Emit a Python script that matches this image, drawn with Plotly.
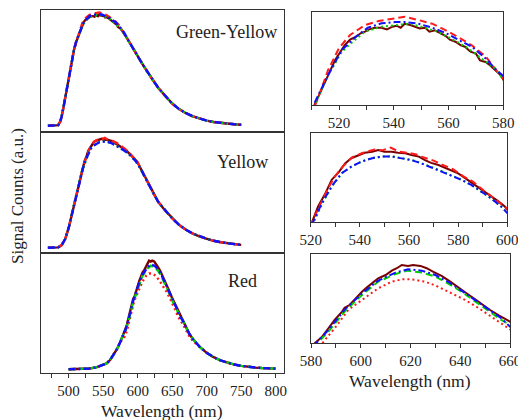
import plotly.graph_objects as go

W, H = 518, 420

# ---------------- Green-Yellow ----------------
GY_LO_WL = [470, 480, 485, 488, 490, 493, 495, 498, 500, 503, 505, 508]
GY_LO = [0.0, 0.0, 0.005, 0.04, 0.085, 0.18, 0.25, 0.36, 0.43, 0.54, 0.60, 0.69]
GY_HI_WL = [585, 590, 595, 600, 605, 610, 615, 620, 625, 630, 640, 650, 660, 670, 680, 690, 700, 710, 720, 730, 740, 750]
GY_HI = [0.785, 0.73, 0.68, 0.625, 0.575, 0.525, 0.475, 0.43, 0.385, 0.34, 0.265, 0.20, 0.15, 0.113, 0.085, 0.063, 0.046, 0.034, 0.026, 0.019, 0.013, 0.009]

GY_MAROON_WL = [511, 513, 515, 517, 518.5, 520.5, 522, 524, 526, 528, 529.5, 531, 533, 535.5, 537.5, 539.5, 541, 542.5, 544, 546, 548, 549.5, 551.5, 553, 555, 557, 559, 560.5, 562.5, 564.5, 566, 568, 570, 571.5, 573.5, 575, 577, 579, 580]
GY_MAROON = [0.755, 0.790, 0.825, 0.860, 0.889, 0.915, 0.934, 0.951, 0.959, 0.971, 0.975, 0.982, 0.987, 0.987, 0.982, 0.990, 0.993, 0.987, 0.999, 0.995, 0.990, 0.985, 0.987, 0.975, 0.979, 0.971, 0.962, 0.951, 0.945, 0.934, 0.930, 0.915, 0.909, 0.889, 0.884, 0.875, 0.860, 0.845, 0.831]
GY_RED_WL = [512, 516, 520, 524, 529.5, 534.5, 539.5, 544, 549, 554, 559, 563.5, 568.5, 573.5, 577, 580]
GY_RED = [0.769, 0.860, 0.926, 0.965, 0.995, 1.007, 1.015, 1.020, 1.010, 0.999, 0.979, 0.959, 0.934, 0.901, 0.864, 0.836]
GY_BLUE_WL = [511, 516, 521, 526, 530.5, 535.5, 540.5, 544, 549, 554, 559, 563.5, 568.5, 573.5, 577, 580]
GY_BLUE = [0.761, 0.845, 0.920, 0.959, 0.987, 1.000, 1.004, 1.004, 0.999, 0.987, 0.971, 0.951, 0.930, 0.895, 0.864, 0.842]
GY_GREEN_WL = [511, 516, 521, 525, 529.5, 535.5, 540.5, 545.5, 550, 556, 561, 567, 572, 577, 580]
GY_GREEN = [0.755, 0.845, 0.915, 0.945, 0.975, 0.990, 0.995, 0.999, 0.990, 0.975, 0.954, 0.926, 0.895, 0.864, 0.831]

# ---------------- Yellow ----------------
Y_LO_WL = [470, 480, 485, 490, 495, 500, 505, 510, 515, 518]
Y_LO = [0.0, 0.0, 0.004, 0.025, 0.08, 0.18, 0.32, 0.455, 0.595, 0.68]
Y_HI_WL = [605, 610, 615, 620, 625, 630, 640, 650, 660, 670, 680, 690, 700, 710, 720, 730, 740, 750]
Y_HI = [0.72, 0.655, 0.59, 0.53, 0.475, 0.42, 0.34, 0.27, 0.21, 0.165, 0.13, 0.103, 0.082, 0.064, 0.051, 0.041, 0.033, 0.027]

Y_MAROON_WL = [520.5, 523, 526, 528.5, 531.5, 534, 536.5, 539.5, 542, 545, 547.5, 550, 553, 555.5, 558.5, 561, 564, 566.5, 569, 572, 574.5, 577.5, 580, 583, 585.5, 588, 591, 593.5, 596.5, 599, 600]
Y_MAROON = [0.735, 0.793, 0.842, 0.891, 0.921, 0.952, 0.971, 0.983, 0.991, 0.995, 1.001, 0.995, 0.995, 0.991, 0.989, 0.983, 0.977, 0.964, 0.954, 0.946, 0.937, 0.925, 0.915, 0.897, 0.881, 0.866, 0.848, 0.829, 0.811, 0.793, 0.781]
Y_RED_WL = [521, 524, 527, 530, 533, 537, 541, 546, 549, 552.5, 556, 560, 563, 565, 570, 574, 578, 582, 586, 590, 594, 597, 600]
Y_RED = [0.745, 0.80, 0.86, 0.905, 0.94, 0.975, 0.99, 1.003, 1.0, 1.01, 0.995, 0.99, 0.985, 0.977, 0.962, 0.945, 0.93, 0.905, 0.885, 0.855, 0.828, 0.808, 0.785]
Y_BLUE_WL = [521, 524.5, 528.5, 532.5, 536.5, 540.5, 545, 549, 553, 557, 561, 565, 569, 573.5, 577.5, 581.5, 585.5, 589.5, 593.5, 597.5, 600]
Y_BLUE = [0.737, 0.804, 0.867, 0.915, 0.940, 0.958, 0.971, 0.977, 0.977, 0.971, 0.964, 0.952, 0.937, 0.921, 0.906, 0.891, 0.872, 0.848, 0.823, 0.793, 0.768]
Y_GREEN_WL = [521.5, 525, 529, 533, 537, 541, 545, 549, 553, 557, 561, 565, 569, 573, 577, 581, 585, 589, 593, 597, 600]
Y_GREEN = [0.74, 0.81, 0.872, 0.918, 0.942, 0.96, 0.972, 0.977, 0.978, 0.972, 0.965, 0.953, 0.94, 0.925, 0.908, 0.893, 0.874, 0.85, 0.826, 0.797, 0.772]

# ---------------- Red ----------------
R_LO_WL = [500, 510, 520, 530, 540, 550, 555, 560, 565, 570, 575, 578]
R_LO = [0.0, 0.002, 0.004, 0.007, 0.018, 0.038, 0.055, 0.085, 0.13, 0.185, 0.255, 0.305]
R_HI_WL = [665, 670, 675, 680, 690, 700, 710, 720, 730, 740, 750, 760, 770, 780, 790, 800]
R_HI = [0.455, 0.39, 0.325, 0.28, 0.206, 0.152, 0.112, 0.082, 0.06, 0.044, 0.032, 0.023, 0.017, 0.012, 0.008, 0.006]

R_MAROON_WL = [581.5, 584.5, 587, 589.5, 592.5, 593.5, 595.5, 597.5, 600.5, 602.5, 604.5, 607, 610, 612.5, 614.5, 616.5, 619, 621, 624, 626.5, 629, 632.5, 636, 639, 642.5, 646, 649.5, 652, 655.5, 660]
R_MAROON = [0.355, 0.410, 0.479, 0.548, 0.617, 0.649, 0.671, 0.718, 0.781, 0.817, 0.850, 0.892, 0.919, 0.955, 0.975, 1.002, 0.994, 1.002, 0.994, 0.975, 0.947, 0.911, 0.864, 0.817, 0.768, 0.718, 0.665, 0.630, 0.585, 0.534]
R_BLUE_WL = [582, 587, 593.5, 600.5, 607, 614, 619, 624.5, 630, 635, 640.5, 646, 651.5, 656.5, 660]
R_BLUE = [0.355, 0.465, 0.631, 0.767, 0.872, 0.939, 0.966, 0.955, 0.919, 0.864, 0.790, 0.713, 0.631, 0.562, 0.492]
R_GREEN_WL = [582.5, 587, 593.5, 600.5, 607, 614, 619, 624.5, 630, 635, 640.5, 646, 651.5, 656.5, 660]
R_GREEN = [0.355, 0.451, 0.617, 0.754, 0.864, 0.928, 0.955, 0.939, 0.906, 0.850, 0.781, 0.699, 0.617, 0.548, 0.506]
R_RED_WL = [580, 584.5, 589.5, 595, 600.5, 607, 612.5, 616.5, 620.5, 626, 631, 636.5, 642, 647.5, 652.5, 656.5, 660, 665, 670, 675, 680]
R_RED = [0.285, 0.355, 0.479, 0.631, 0.713, 0.809, 0.864, 0.883, 0.883, 0.864, 0.823, 0.768, 0.713, 0.644, 0.576, 0.520, 0.470, 0.42, 0.36, 0.305, 0.262]

PANEL_LABELS = ["Green-Yellow", "Yellow", "Red"]
LEFT_TICKS = [475, 500, 525, 550, 575, 600, 625, 650, 675, 700, 725, 750, 775, 800]
LEFT_TICK_TEXT = ["", "500", "", "550", "", "600", "", "650", "", "700", "", "750", "", "800"]
TR_TICKS = [510, 520, 530, 540, 550, 560, 570, 580]
TR_TICK_TEXT = ["", "520", "", "540", "", "560", "", "580"]
MR_TICKS = [520, 530, 540, 550, 560, 570, 580, 590, 600]
MR_TICK_TEXT = ["520", "", "540", "", "560", "", "580", "", "600"]
BR_TICKS = [580, 590, 600, 610, 620, 630, 640, 650, 660]
BR_TICK_TEXT = ["580", "", "600", "", "620", "", "640", "", "660"]
X_TITLE = "Wavelength (nm)"
Y_TITLE = "Signal Counts (a.u.)"

FONT = "Liberation Serif, Times New Roman, serif"
MAROON, RED, GREEN, BLUE = "#7a0000", "#ff1a1a", "#00d000", "#1010ff"
DASH_LONG = "7px,4px"
DASH_DOT = "2px,3px"
DASH_DASHDOT = "7px,3px,2px,3px"

fig = go.Figure()

panels = [
    (GY_LO_WL, GY_LO, GY_HI_WL, GY_HI,
     [(GY_MAROON_WL, GY_MAROON, MAROON, "solid", True),
      (GY_RED_WL, GY_RED, RED, DASH_LONG, True),
      (GY_GREEN_WL, GY_GREEN, GREEN, DASH_DOT, True),
      (GY_BLUE_WL, GY_BLUE, BLUE, DASH_DASHDOT, True)]),
    (Y_LO_WL, Y_LO, Y_HI_WL, Y_HI,
     [(Y_MAROON_WL, Y_MAROON, MAROON, "solid", True),
      (Y_RED_WL, Y_RED, RED, DASH_LONG, True),
      (Y_GREEN_WL, Y_GREEN, GREEN, DASH_DOT, True),
      (Y_BLUE_WL, Y_BLUE, BLUE, DASH_DASHDOT, True)]),
    (R_LO_WL, R_LO, R_HI_WL, R_HI,
     [(R_MAROON_WL, R_MAROON, MAROON, "solid", True),
      (R_RED_WL, R_RED, RED, DASH_DOT, False),
      (R_GREEN_WL, R_GREEN, GREEN, DASH_LONG, True),
      (R_BLUE_WL, R_BLUE, BLUE, DASH_DASHDOT, True)]),
]

for i, (lo_wl, lo, hi_wl, hi, series) in enumerate(panels):
    for wl, vals, color, dash, full_lo in series:
        if full_lo:
            xs = lo_wl + wl + [w for w in hi_wl if w > wl[-1]]
            ys = lo + vals + [v for w, v in zip(hi_wl, hi) if w > wl[-1]]
        else:
            xs = [w for w in lo_wl if w < wl[0] - 3] + wl + [w for w in hi_wl if w > wl[-1]]
            ys = [v for w, v in zip(lo_wl, lo) if w < wl[0] - 3] + vals + [v for w, v in zip(hi_wl, hi) if w > wl[-1]]
        fig.add_trace(go.Scatter(x=xs, y=ys, mode="lines", xaxis=f"x{i+1}" if i else "x",
                                 yaxis=f"y{i+1}" if i else "y",
                                 line=dict(color=color, width=2.4, dash=dash), showlegend=False,
                                 hoverinfo="skip"))
        fig.add_trace(go.Scatter(x=xs, y=ys, mode="lines", xaxis=f"x{i+4}", yaxis=f"y{i+4}",
                                 line=dict(color=color, width=2, dash=dash), showlegend=False,
                                 hoverinfo="skip"))


def dom_x(a, b):
    return [a / W, b / W]


def dom_y(top, bottom):
    return [1 - bottom / H, 1 - top / H]


axis_common = dict(showline=True, mirror=True, linecolor="#333", linewidth=1,
                   showgrid=False, zeroline=False, automargin=False)
tickfont = dict(family=FONT, size=15, color="#222")

left_x = dom_x(41, 284)
left_rows = [(10, 131.5), (131.5, 252.5), (252.5, 373)]
left_yr = [[-0.052, 1.042], [-0.0435, 1.068], [-0.034, 1.077]]
right_x = [dom_x(311.7, 503.3), dom_x(310.7, 507.3), dom_x(311, 510)]
right_rows = [(11.7, 105), (132.7, 222.3), (254.3, 343.3)]
right_xr = [[510, 580], [520, 600], [580, 660]]
right_yr = [[0.755, 1.035], [0.735, 1.065], [0.355, 1.09]]
right_ticks = [(TR_TICKS, TR_TICK_TEXT), (MR_TICKS, MR_TICK_TEXT), (BR_TICKS, BR_TICK_TEXT)]

layout = {}
for i in range(3):
    n = i + 1
    xk = "xaxis" if n == 1 else f"xaxis{n}"
    yk = "yaxis" if n == 1 else f"yaxis{n}"
    xa = dict(axis_common, domain=left_x, range=[460, 812], anchor="y" if n == 1 else f"y{n}")
    if n == 3:
        xa.update(tickmode="array", tickvals=LEFT_TICKS, ticktext=LEFT_TICK_TEXT,
                  ticks="outside", ticklen=4, tickcolor="#333", tickfont=tickfont,
                  ticklabeloverflow="allow")
    else:
        xa.update(showticklabels=False, ticks="")
    layout[xk] = xa
    layout[yk] = dict(axis_common, domain=dom_y(*left_rows[i]), range=left_yr[i],
                      anchor="x" if n == 1 else f"x{n}", showticklabels=False, ticks="")
for i in range(3):
    n = i + 4
    tv, tt = right_ticks[i]
    layout[f"xaxis{n}"] = dict(axis_common, domain=right_x[i], range=right_xr[i], anchor=f"y{n}",
                               tickmode="array", tickvals=tv, ticktext=tt, ticks="outside",
                               ticklen=4, tickcolor="#333", tickfont=tickfont,
                               ticklabeloverflow="allow")
    layout[f"yaxis{n}"] = dict(axis_common, domain=dom_y(*right_rows[i]), range=right_yr[i],
                               anchor=f"x{n}", showticklabels=False, ticks="")

annots = []
label_pos = [(226.5, 32), (242.5, 162), (242, 280.7)]
for txt, (px, py) in zip(PANEL_LABELS, label_pos):
    annots.append(dict(text=txt, x=px / W, y=1 - py / H, xref="paper", yref="paper",
                       showarrow=False, xanchor="center", yanchor="middle",
                       font=dict(family=FONT, size=18, color="#222")))
annots.append(dict(text=X_TITLE, x=162 / W, y=1 - 411 / H, xref="paper", yref="paper",
                   showarrow=False, xanchor="center", yanchor="middle",
                   font=dict(family=FONT, size=17.5, color="#222")))
annots.append(dict(text=X_TITLE, x=410 / W, y=1 - 381 / H, xref="paper", yref="paper",
                   showarrow=False, xanchor="center", yanchor="middle",
                   font=dict(family=FONT, size=17.5, color="#222")))
annots.append(dict(text=Y_TITLE, x=17 / W, y=1 - 196 / H, xref="paper", yref="paper",
                   showarrow=False, xanchor="center", yanchor="middle", textangle=-90,
                   font=dict(family=FONT, size=17, color="#222")))

fig.update_layout(width=W, height=H, margin=dict(l=0, r=0, t=0, b=0, autoexpand=False),
                  paper_bgcolor="white", plot_bgcolor="white", annotations=annots,
                  **layout)

fig.write_html("out.html", config={"displayModeBar": False},
               post_script="document.body.style.margin='0px';document.body.style.padding='0px';")
